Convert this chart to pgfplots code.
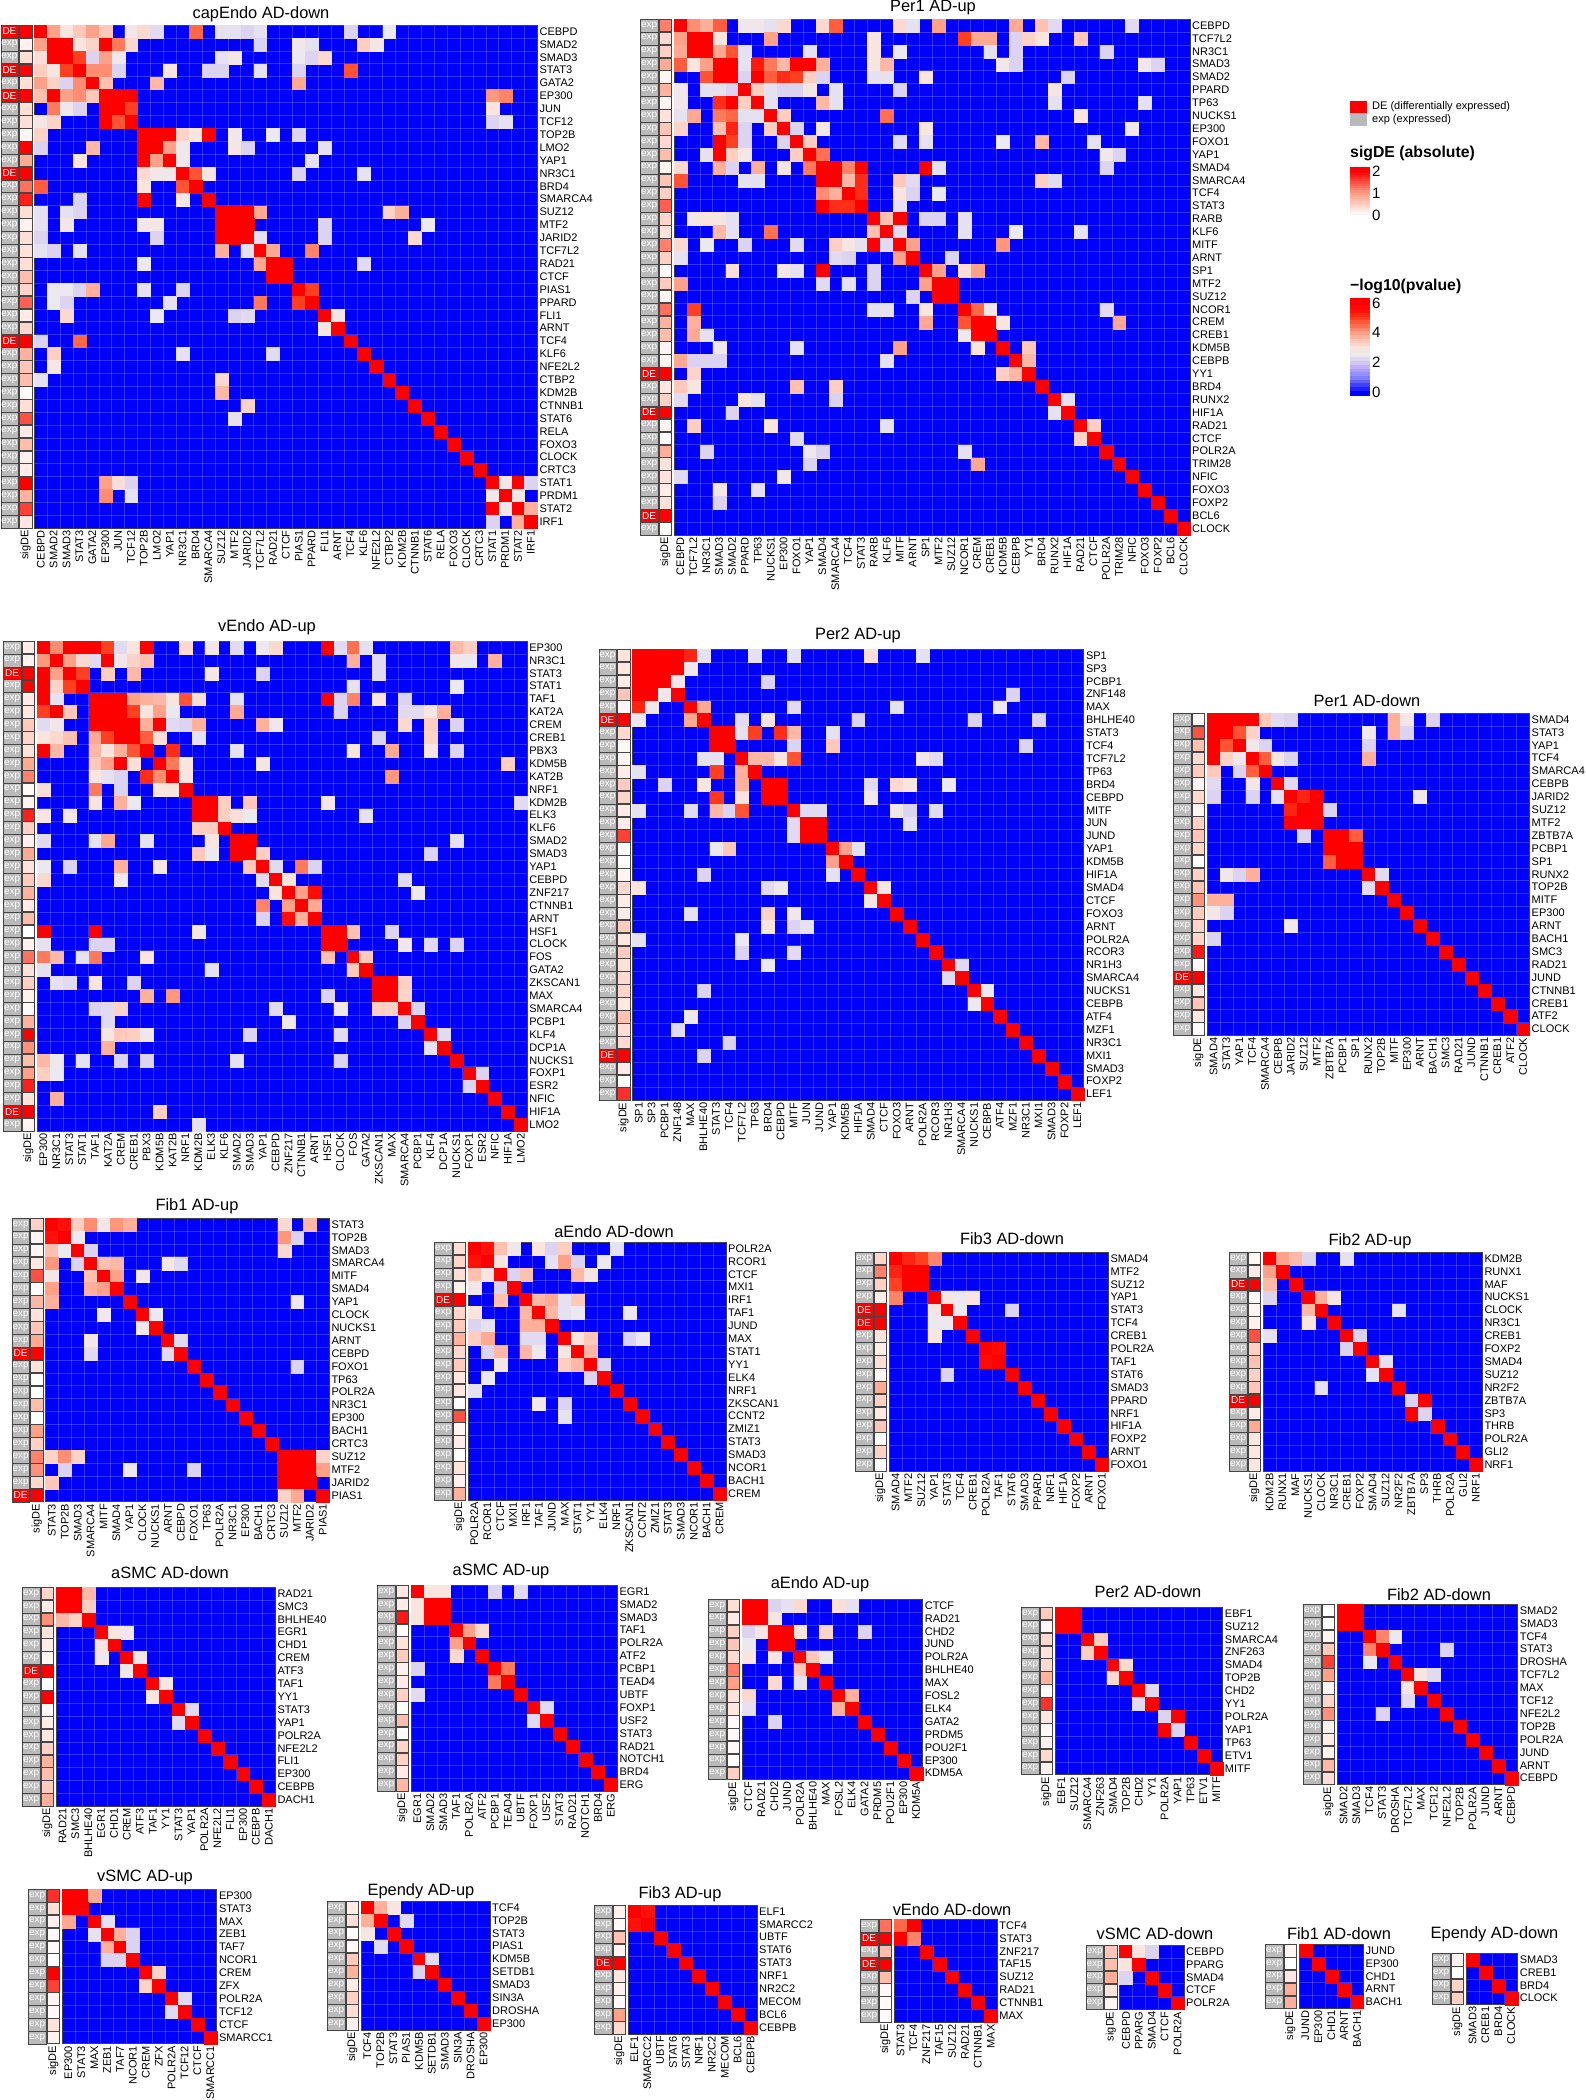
\documentclass[border=0pt]{standalone}
\usepackage{fontspec}
\setmainfont{Liberation Sans}
\usepackage{pgfplots}
\pgfplotsset{compat=1.18}

\def\cw{12.9}
\def\labf{\fontsize{11}{13}\selectfont}
\definecolor{expgrey}{RGB}{186,186,186}
\definecolor{cellline}{RGB}{70,70,70}
\pgfplotsset{
  colormap={hm}{rgb255=(0,0,255) rgb255=(64,64,255) rgb255=(128,128,255) rgb255=(172,160,250)
    rgb255=(210,198,240) rgb255=(235,232,240) rgb255=(250,228,222) rgb255=(255,200,184)
    rgb255=(255,160,136) rgb255=(255,112,80) rgb255=(255,64,32) rgb255=(255,16,8) rgb255=(255,0,0)},
  colormap={sigc}{rgb255=(255,255,255) rgb255=(255,160,135) rgb255=(255,0,0)},
  heatx/.style={},
  base/.style={scale only axis,anchor=south west,y dir=reverse,ymin=.5,
    major tick length=0pt,minor tick length=0pt,
    x tick label style={rotate=90,anchor=east,font=\labf,inner sep=2pt},
    y tick label style={font=\labf,inner sep=2pt}},
  cellmark/.style={scatter,only marks,mark=square*,mark size=6.45pt,scatter src=explicit,
    mark options={line width=.1pt},
    scatter/use mapped color={draw=mapped color,fill=mapped color}},
  barstyle/.style={scale only axis,anchor=south west,xmin=-.5,xmax=.5,xtick=\empty,clip=false,
    axis on top,axis line style={draw=none},tick align=inside,major tick length=5pt,
    ytick pos=both,yticklabel pos=right,tick style={white,line width=.8pt},
    y tick label style={font=\fontsize{15}{17}\selectfont,inner sep=3pt,text=black},
    /pgf/number format/assume math mode=true},
}

% x left of matrix, y top of matrix, rows, title x, title y, title, genes, exp/DE + sigDE rows, cells
\newcommand\heat[9]{%
  \pgfmathsetmacro\aw{#3*\cw}%
  \pgfmathsetmacro\ay{2100-#2-\aw}%
  \pgfmathsetmacro\ax{#1-33.5}%
  \pgfmathsetmacro\nn{#3+.5}%
  \pgfmathsetmacro\ty{2100-#5}%
  \begin{axis}[base,at={(\ax pt,\ay pt)},width=31.5pt,height=\aw pt,xmin=0,xmax=31.5,ymax=\nn,
    clip=false,axis line style={draw=none},xtick={24.75},xticklabels={sigDE},ytick=\empty,
    point meta min=0,point meta max=2]
    % cell colours and the words go in two plots: nodes near coords drops scatter classes
    \addplot[scatter,only marks,mark=square*,mark size=6.45pt,mark options={xscale=1.34,line width=.5pt},
      scatter src=explicit symbolic,
      scatter/classes={exp={mark=square*,draw=cellline,fill=expgrey},DE={mark=square*,draw=cellline,fill=red}}]
      table[header=false,x expr=8.65,y expr=\coordindex+1,meta index=0,row sep=\\]{#8};
    \addplot[only marks,mark=*,mark size=0pt,mark options={draw opacity=0,fill opacity=0,line width=0pt},
      point meta=explicit symbolic,
      nodes near coords={\pgfplotspointmeta},
      nodes near coords style={anchor=center,inner sep=0pt,text=white,text opacity=1,font=\fontsize{10}{10}\selectfont}]
      table[header=false,x expr=8.65,y expr=\coordindex+1,meta index=0,row sep=\\]{#8};
    \addplot[scatter,only marks,mark=square*,mark size=6.3pt,scatter src=explicit,colormap name=sigc,
      mark options={line width=.5pt},
      scatter/use mapped color={draw=cellline,fill=mapped color}]
      table[header=false,x expr=24.75,y expr=\coordindex+1,meta index=1,row sep=\\]{#8};
  \end{axis}
  \begin{axis}[base,at={(#1pt,\ay pt)},width=\aw pt,height=\aw pt,xmin=.5,xmax=\nn,ymax=\nn,
    clip=false,axis on top,axis line style={draw=black!75,line width=.7pt},
    axis background/.style={fill=blue},
    colormap name=hm,point meta min=0,point meta max=6,
    xtick={1,...,#3},ytick={1,...,#3},xticklabels={#7},yticklabels={#7},heatx,
    yticklabel pos=right,minor x tick num=1,minor y tick num=1,xminorgrids,yminorgrids,
    minor grid style={white,opacity=.2,line width=.45pt}]
    \addplot[cellmark] coordinates {#9};
  \end{axis}
  \node[font=\fontsize{16.4}{18}\selectfont] at (#4pt,\ty pt) {#6};
}

\begin{document}
\begin{tikzpicture}
\path[use as bounding box] (0,0) rectangle (1585pt,2100pt);

\heat{34.3}{25}{39}{261}{14}{capEndo AD-down}
{CEBPD,SMAD2,SMAD3,STAT3,GATA2,EP300,JUN,TCF12,TOP2B,LMO2,YAP1,NR3C1,BRD4,SMARCA4,SUZ12,MTF2,JARID2,TCF7L2,RAD21,CTCF,PIAS1,PPARD,FLI1,ARNT,TCF4,KLF6,NFE2L2,CTBP2,KDM2B,CTNNB1,STAT6,RELA,FOXO3,CLOCK,CRTC3,STAT1,PRDM1,STAT2,IRF1}
{DE 2\\exp .15\\exp .35\\DE 2\\exp .35\\DE 2\\exp .35\\exp .35\\exp .1\\exp 2\\exp .9\\DE 2\\exp 1.3\\exp 1.8\\exp .35\\exp .15\\exp .35\\exp .3\\exp .35\\exp .7\\exp .45\\exp 1.4\\exp .2\\exp .45\\DE 2\\exp .8\\exp .6\\exp .7\\exp .05\\exp .35\\exp 1.5\\exp .2\\exp .7\\exp .15\\exp .2\\exp 2\\exp .8\\exp 1.6\\exp .25\\}
{(1,1)[6] (2,1)[4] (3,1)[3] (4,1)[3.5] (5,1)[4] (6,1)[3.5] (8,1)[2.8] (9,1)[3.2] (10,1)[2.3] (13,1)[4.6] (15,1)[2.4] (16,1)[2.4] (17,1)[2.2] (18,1)[2.4] (25,1)[2.2] (28,1)[2.5]
(1,2)[4] (2,2)[6] (3,2)[6] (4,2)[3] (5,2)[3.3] (6,2)[6] (7,2)[4.4] (8,2)[3.2] (18,2)[2.2] (21,2)[2.7] (22,2)[2.4] (26,2)[3.4] (27,2)[2.8]
(1,3)[3.1] (2,3)[6] (3,3)[6] (4,3)[5] (5,3)[2.2] (6,3)[4] (7,3)[2.7] (15,3)[2.4] (16,3)[2.8] (21,3)[2.5] (22,3)[2.2] (23,3)[3.2]
(1,4)[3.4] (2,4)[2.9] (3,4)[5] (4,4)[6] (5,4)[4.2] (6,4)[4.2] (7,4)[2.2] (11,4)[3] (14,4)[2.2] (15,4)[2.2] (18,4)[2.4] (21,4)[2.2] (25,4)[4.8]
(1,5)[4] (2,5)[3.3] (3,5)[2.2] (4,5)[4.2] (5,5)[6] (6,5)[3.6] (10,5)[3.7] (21,5)[3.9]
(1,6)[3.6] (2,6)[6] (3,6)[4] (4,6)[4.2] (5,6)[3.5] (6,6)[6] (7,6)[6] (8,6)[6] (36,6)[4.1] (37,6)[4.3]
(2,7)[4.4] (3,7)[2.7] (4,7)[2.2] (6,7)[6] (7,7)[6] (8,7)[5] (36,7)[3]
(1,8)[2.8] (2,8)[3.3] (6,8)[6] (7,8)[4.8] (8,8)[6] (36,8)[2.2] (37,8)[2.4]
(1,9)[3.3] (9,9)[6] (10,9)[6] (11,9)[6] (12,9)[3.3] (13,9)[3] (14,9)[6] (16,9)[2.7] (19,9)[2.5] (21,9)[2.2]
(1,10)[2.2] (5,10)[3.7] (9,10)[6] (10,10)[6] (11,10)[4] (12,10)[2.7] (16,10)[2.8] (17,10)[2.2] (23,10)[2.4]
(4,11)[3] (9,11)[6] (10,11)[4] (11,11)[6] (12,11)[2.7] (22,11)[2.4]
(9,12)[3.2] (10,12)[2.7] (11,12)[2.7] (12,12)[6] (13,12)[4.8] (14,12)[2.9] (21,12)[2.2] (26,12)[2.4]
(1,13)[4.7] (9,13)[3] (12,13)[4.8] (13,13)[6]
(4,14)[2.2] (9,14)[6] (12,14)[2.8] (14,14)[6]
(1,15)[2.4] (3,15)[2.4] (4,15)[2.2] (15,15)[6] (16,15)[6] (17,15)[6] (18,15)[3.9] (28,15)[3.3] (29,15)[3.8]
(1,16)[2.4] (3,16)[2.8] (9,16)[2.7] (10,16)[2.8] (15,16)[6] (16,16)[6] (17,16)[6] (23,16)[2.2] (31,16)[2.5]
(1,17)[2.2] (10,17)[2.2] (15,17)[6] (16,17)[6] (17,17)[6] (18,17)[2.4] (23,17)[2.2] (30,17)[3.2]
(1,18)[2.4] (2,18)[2.2] (4,18)[2.4] (15,18)[3.8] (17,18)[2.4] (18,18)[6] (19,18)[3.9] (22,18)[4.3]
(9,19)[2.5] (18,19)[3.9] (19,19)[6] (20,19)[6] (26,19)[2.3]
(19,20)[6] (20,20)[6]
(2,21)[2.6] (3,21)[2.5] (4,21)[2.2] (5,21)[3.8] (9,21)[2.4] (12,21)[2.2] (21,21)[6] (22,21)[5]
(2,22)[2.5] (3,22)[2.2] (11,22)[2.4] (18,22)[4.4] (21,22)[5] (22,22)[6]
(3,23)[3.2] (10,23)[2.5] (16,23)[2.2] (17,23)[2.3] (23,23)[6] (24,23)[2.8]
(23,24)[2.9] (24,24)[6]
(1,25)[2.2] (4,25)[4.6] (25,25)[6]
(2,26)[3.4] (12,26)[2.4] (19,26)[2.3] (26,26)[6]
(2,27)[2.8] (27,27)[6]
(1,28)[2.4] (15,28)[3.2] (28,28)[6]
(15,29)[3.7] (29,29)[6]
(17,30)[3.3] (30,30)[6]
(16,31)[2.4] (31,31)[6]
(32,32)[6] (33,33)[6] (34,34)[6] (35,35)[6]
(6,36)[4] (7,36)[3.1] (8,36)[2.2] (36,36)[6] (37,36)[2.7] (38,36)[6] (39,36)[2.2]
(6,37)[4.2] (8,37)[2.4] (36,37)[2.7] (37,37)[6] (38,37)[2.8]
(36,38)[6] (37,38)[2.7] (38,38)[6] (39,38)[3.8]
(36,39)[2.2] (38,39)[3.8] (39,39)[6]}

\heat{674}{19}{40}{933}{8}{Per1 AD-up}
{CEBPD,TCF7L2,NR3C1,SMAD3,SMAD2,PPARD,TP63,NUCKS1,EP300,FOXO1,YAP1,SMAD4,SMARCA4,TCF4,STAT3,RARB,KLF6,MITF,ARNT,SP1,MTF2,SUZ12,NCOR1,CREM,CREB1,KDM5B,CEBPB,YY1,BRD4,RUNX2,HIF1A,RAD21,CTCF,POLR2A,TRIM28,NFIC,FOXO3,FOXP2,BCL6,CLOCK}
{exp 1.2\\exp .4\\exp .5\\exp .9\\exp .1\\exp .8\\exp .1\\exp .3\\exp .6\\exp .4\\exp .7\\exp .1\\exp .6\\exp .5\\exp 1.4\\exp .45\\exp .3\\exp 1.2\\exp .5\\exp .05\\exp .55\\exp .1\\exp 1.3\\exp .8\\exp .7\\exp .1\\exp .1\\DE 2\\exp .25\\exp .5\\DE 2\\exp .12\\exp .02\\exp .85\\exp .3\\exp .3\\exp .2\\exp .3\\DE 2\\exp .03\\}
{(1,1)[6] (2,1)[4.2] (3,1)[3.8] (4,1)[4.7] (6,1)[2.7] (7,1)[2.7] (8,1)[2.4] (9,1)[3.2] (12,1)[3.2] (13,1)[4.7] (18,1)[3.2] (19,1)[2.4] (21,1)[4] (27,1)[3.9] (29,1)[3.6] (30,1)[2.3] (36,1)[2.3]
(1,2)[4] (2,2)[6] (3,2)[6] (4,2)[3] (8,2)[4] (16,2)[2.9] (23,2)[5] (24,2)[3.9] (25,2)[3.9] (27,2)[2.2] (28,2)[3.3] (29,2)[3] (32,2)[3.5]
(1,3)[3.9] (2,3)[6] (3,3)[6] (4,3)[3.9] (5,3)[4.8] (6,3)[2.4] (11,3)[2.4] (16,3)[3] (18,3)[2.5] (25,3)[2.4] (27,3)[2.2] (34,3)[2.2]
(1,4)[4.7] (2,4)[3] (3,4)[4] (4,4)[6] (5,4)[6] (6,4)[2.4] (7,4)[5.4] (8,4)[4.4] (9,4)[3.7] (10,4)[6] (11,4)[6] (12,4)[3.8] (16,4)[2.9] (17,4)[3.7] (26,4)[2.7] (27,4)[2.2] (37,4)[2.7] (38,4)[2.2]
(3,5)[4.8] (4,5)[6] (5,5)[6] (6,5)[2.2] (7,5)[6] (8,5)[4.7] (9,5)[5.2] (10,5)[5] (11,5)[3.4] (12,5)[2.2] (16,5)[2.4] (17,5)[2.4] (20,5)[3] (31,5)[2.2]
(1,6)[2.7] (3,6)[2.4] (4,6)[2.4] (5,6)[2.2] (6,6)[6] (7,6)[3.4] (8,6)[2.4] (9,6)[2.2] (10,6)[2.2] (11,6)[2.8] (13,6)[2.4] (18,6)[2.2] (30,6)[2.9]
(1,7)[2.7] (4,7)[5.2] (5,7)[6] (6,7)[3.4] (7,7)[6] (8,7)[2.4] (12,7)[3.7] (13,7)[2.4] (30,7)[2.4] (37,7)[2.4]
(1,8)[2.4] (2,8)[3.9] (4,8)[4.4] (5,8)[4.6] (6,8)[2.4] (7,8)[2.4] (8,8)[6] (9,8)[3.4] (17,8)[4.5] (32,8)[3]
(1,9)[3.3] (4,9)[3.6] (5,9)[5.3] (6,9)[2.2] (8,9)[3.4] (9,9)[6] (10,9)[2.2] (12,9)[2.8] (20,9)[2.9] (36,9)[2.7]
(4,10)[6] (5,10)[5] (6,10)[2.2] (9,10)[2.2] (10,10)[6] (11,10)[3.4] (18,10)[2.3] (20,10)[2.4] (26,10)[2.5] (29,10)[3.7] (33,10)[2.4]
(3,11)[2.4] (4,11)[6] (5,11)[3.4] (6,11)[2.8] (10,11)[3.4] (11,11)[6] (12,11)[4.5] (34,11)[2.7] (35,11)[2.2]
(1,12)[3.2] (4,12)[3.8] (5,12)[2.2] (7,12)[3.8] (9,12)[2.9] (11,12)[4.4] (12,12)[6] (13,12)[6] (14,12)[4.3] (15,12)[6] (20,12)[6] (21,12)[2.4] (34,12)[2.2]
(1,13)[4.8] (6,13)[2.4] (7,13)[2.4] (12,13)[6] (13,13)[6] (14,13)[3.7] (15,13)[5.2] (18,13)[3.5] (19,13)[2.3] (29,13)[3.4] (30,13)[2.3]
(12,14)[4.2] (13,14)[3.8] (14,14)[6] (15,14)[5.2] (18,14)[3] (19,14)[2.2] (21,14)[2.5]
(12,15)[6] (13,15)[5.2] (14,15)[5.2] (15,15)[6] (18,15)[2.4]
(2,16)[2.8] (3,16)[3] (4,16)[2.9] (5,16)[2.4] (16,16)[6] (17,16)[3.6] (18,16)[6] (20,16)[2.2] (21,16)[2.2] (23,16)[2.4]
(4,17)[3.7] (5,17)[2.4] (8,17)[4.5] (16,17)[3.6] (17,17)[6] (18,17)[2.3] (23,17)[2.4] (27,17)[2.5] (32,17)[2.4]
(1,18)[3.2] (3,18)[2.5] (6,18)[2.2] (10,18)[2.3] (13,18)[3.4] (14,18)[2.9] (15,18)[2.4] (16,18)[6] (17,18)[2.3] (18,18)[6] (19,18)[4] (26,18)[4.1]
(1,19)[2.4] (13,19)[2.3] (14,19)[2.2] (18,19)[4] (19,19)[6] (22,19)[2.2]
(5,20)[3.1] (9,20)[2.8] (10,20)[2.4] (12,20)[6] (16,20)[2.2] (20,20)[6] (21,20)[4] (23,20)[3.1] (24,20)[4]
(1,21)[4] (12,21)[2.3] (14,21)[2.4] (16,21)[2.2] (20,21)[4] (21,21)[6] (22,21)[6]
(19,22)[2.2] (21,22)[6] (22,22)[6]
(2,23)[5] (16,23)[2.4] (17,23)[2.4] (20,23)[3] (23,23)[6] (24,23)[4.6] (25,23)[2.7] (34,23)[2.3]
(2,24)[3.8] (20,24)[3.9] (23,24)[4.8] (24,24)[6] (25,24)[6] (26,24)[3] (35,24)[3.9]
(2,25)[3.9] (3,25)[2.4] (23,25)[2.7] (24,25)[6] (25,25)[6]
(4,26)[2.7] (10,26)[2.4] (18,26)[4] (24,26)[3] (26,26)[6] (28,26)[3.5]
(1,27)[3.9] (2,27)[2.2] (3,27)[2.2] (4,27)[2.2] (17,27)[2.4] (27,27)[6] (28,27)[3.7]
(2,28)[3.3] (26,28)[3.4] (27,28)[3.7] (28,28)[6]
(1,29)[3.5] (2,29)[2.9] (10,29)[3.6] (13,29)[3.4] (29,29)[6]
(1,30)[2.3] (6,30)[3] (7,30)[2.4] (13,30)[2.2] (30,30)[6] (31,30)[2.4]
(5,31)[2.2] (30,31)[2.4] (31,31)[6]
(2,32)[3.4] (8,32)[3] (17,32)[2.4] (32,32)[6] (33,32)[3.4]
(10,33)[2.3] (32,33)[3.3] (33,33)[6]
(3,34)[2.2] (11,34)[2.7] (12,34)[2.2] (23,34)[2.4] (34,34)[6]
(11,35)[2.2] (24,35)[3.9] (35,35)[6]
(1,36)[2.3] (9,36)[2.7] (36,36)[6]
(4,37)[2.8] (7,37)[2.4] (37,37)[6]
(4,38)[2.2] (38,38)[6] (39,39)[6] (40,40)[6]}

\heat{37}{641}{38}{267}{627}{vEndo AD-up}
{EP300,NR3C1,STAT3,STAT1,TAF1,KAT2A,CREM,CREB1,PBX3,KDM5B,KAT2B,NRF1,KDM2B,ELK3,KLF6,SMAD2,SMAD3,YAP1,CEBPD,ZNF217,CTNNB1,ARNT,HSF1,CLOCK,FOS,GATA2,ZKSCAN1,MAX,SMARCA4,PCBP1,KLF4,DCP1A,NUCKS1,FOXP1,ESR2,NFIC,HIF1A,LMO2}
{exp .2\\exp .15\\DE 2\\exp 2\\exp .2\\exp .25\\exp .55\\exp .45\\exp .3\\exp .9\\exp 1.2\\exp .05\\exp .15\\exp 1.8\\exp .5\\exp .15\\exp .9\\exp .3\\exp .55\\exp .8\\exp .2\\exp .7\\exp 0\\exp .15\\exp 1.3\\exp .3\\exp .5\\exp .15\\exp .05\\exp .8\\exp 2\\exp 1.1\\exp .7\\exp 1\\exp 1.8\\exp .3\\DE 2\\exp .1\\}
{(1,1)[6] (2,1)[4.2] (3,1)[6] (4,1)[6] (5,1)[6] (6,1)[5] (7,1)[2.3] (8,1)[3] (9,1)[6] (12,1)[3.2] (14,1)[2.8] (16,1)[2.3] (18,1)[2.6] (19,1)[3.2] (23,1)[6] (24,1)[2.3] (25,1)[4.5] (26,1)[2.4] (33,1)[3.7] (34,1)[3.4]
(1,2)[4.1] (2,2)[6] (3,2)[4] (4,2)[3.2] (5,2)[2.3] (6,2)[6] (7,2)[2.7] (8,2)[3.3] (9,2)[3.6] (25,2)[3.8] (27,2)[2.3] (33,2)[2.7] (34,2)[2.5] (36,2)[3.8]
(1,3)[6] (2,3)[4] (3,3)[6] (4,3)[5] (6,3)[3.4] (8,3)[3.7] (14,3)[2.8] (18,3)[2.2] (27,3)[2.3]
(1,4)[6] (2,4)[3.3] (3,4)[5] (4,4)[6] (25,4)[2.4] (33,4)[2.5]
(1,5)[6] (2,5)[2.4] (5,5)[6] (6,5)[6] (7,5)[6] (8,5)[4] (9,5)[3.8] (10,5)[3.7] (11,5)[3] (12,5)[4.8] (13,5)[3.1] (16,5)[2.4] (23,5)[6] (24,5)[2.2] (25,5)[4.3] (27,5)[2.9] (29,5)[2.2]
(1,6)[5] (2,6)[6] (3,6)[3.5] (5,6)[6] (6,6)[6] (7,6)[6] (8,6)[5] (9,6)[3] (10,6)[4] (11,6)[2.5] (16,6)[3.9] (24,6)[2.2] (29,6)[2.3] (30,6)[2.3] (31,6)[2.8] (32,6)[3.8]
(1,7)[2.3] (2,7)[2.7] (5,7)[6] (6,7)[6] (7,7)[6] (8,7)[6] (9,7)[3.8] (10,7)[6] (11,7)[2.3] (12,7)[2.2] (13,7)[3.8] (18,7)[3.8] (19,7)[2.7] (29,7)[3.2] (31,7)[3.4] (33,7)[2.2]
(1,8)[3] (2,8)[3.2] (3,8)[3.6] (5,8)[3.9] (6,8)[5] (7,8)[6] (8,8)[6] (9,8)[4.7] (10,8)[3.1] (13,8)[2.4] (27,8)[2.2] (31,8)[3.3]
(1,9)[6] (2,9)[3.7] (5,9)[3.7] (6,9)[3] (7,9)[3.8] (8,9)[4.8] (9,9)[6] (11,9)[5.2] (16,9)[2.4] (25,9)[3] (28,9)[3.9] (31,9)[2.8] (33,9)[2.2]
(5,10)[3.5] (6,10)[4] (7,10)[6] (8,10)[3.1] (10,10)[6] (11,10)[4.4] (12,10)[3] (18,10)[2.8] (37,10)[3.4]
(5,11)[3] (6,11)[2.4] (7,11)[2.2] (9,11)[5.2] (10,11)[4.2] (11,11)[6] (12,11)[3] (28,11)[4.1]
(1,12)[3.1] (5,12)[4.4] (7,12)[2.2] (10,12)[3] (11,12)[3] (12,12)[6]
(5,13)[3] (7,13)[3.8] (8,13)[2.5] (13,13)[6] (14,13)[6] (15,13)[3.4] (17,13)[3.5] (23,13)[2.8] (38,13)[2.3]
(1,14)[2.9] (3,14)[2.8] (13,14)[6] (14,14)[6] (15,14)[3.4] (16,14)[3.1] (17,14)[2.5] (26,14)[2.4]
(13,15)[3.4] (14,15)[3.4] (15,15)[6]
(1,16)[2.3] (5,16)[2.4] (6,16)[3.9] (9,16)[2.4] (14,16)[3] (16,16)[6] (17,16)[6] (33,16)[2.4]
(13,17)[3.5] (14,17)[2.5] (16,17)[6] (17,17)[6] (18,17)[3.4] (31,17)[2.2]
(1,18)[2.5] (3,18)[2.2] (7,18)[3.8] (10,18)[2.8] (17,18)[3.5] (18,18)[6] (19,18)[2.3] (21,18)[4.4] (22,18)[2.2]
(1,19)[3.2] (7,19)[2.7] (18,19)[2.3] (19,19)[6] (20,19)[3] (29,19)[2.3]
(19,20)[3] (20,20)[6] (21,20)[4] (22,20)[5.7] (30,20)[2.6]
(18,21)[4.3] (20,21)[4] (21,21)[6] (22,21)[3.9]
(18,22)[2.2] (20,22)[5.6] (21,22)[3.8] (22,22)[6]
(1,23)[6] (5,23)[6] (13,23)[2.8] (23,23)[6] (24,23)[6] (25,23)[3.6] (28,23)[2.2]
(1,24)[2.4] (5,24)[2.2] (6,24)[2.2] (23,24)[6] (24,24)[6] (29,24)[2.7] (31,24)[2.3] (33,24)[2.2]
(1,25)[4.4] (2,25)[3.7] (4,25)[2.4] (5,25)[4.4] (9,25)[3] (23,25)[3.6] (25,25)[6] (26,25)[3.5]
(1,26)[2.4] (14,26)[2.4] (25,26)[3.5] (26,26)[6]
(2,27)[2.4] (3,27)[2.3] (5,27)[3] (8,27)[2.2] (27,27)[6] (28,27)[6] (29,27)[3.4]
(9,28)[3.8] (11,28)[4.1] (23,28)[2.2] (27,28)[6] (28,28)[6] (29,28)[3.3]
(5,29)[2.2] (6,29)[2.3] (7,29)[3.3] (19,29)[2.3] (24,29)[2.7] (27,29)[3.4] (28,29)[3.3] (29,29)[6] (30,29)[2.2]
(6,30)[2.3] (20,30)[2.7] (29,30)[2.2] (30,30)[6]
(6,31)[2.9] (7,31)[3.5] (8,31)[3.4] (9,31)[2.7] (17,31)[2.2] (24,31)[2.3] (31,31)[6] (32,31)[2.3]
(6,32)[3.8] (31,32)[2.4] (32,32)[6]
(1,33)[3.7] (2,33)[2.6] (4,33)[2.4] (7,33)[2.2] (9,33)[2.2] (16,33)[2.4] (24,33)[2.2] (33,33)[6]
(1,34)[3.4] (2,34)[2.5] (34,34)[6] (35,34)[2.2]
(34,35)[2.2] (35,35)[6]
(2,36)[3.8] (36,36)[6]
(10,37)[3.4] (37,37)[6]
(13,38)[2.4] (38,38)[6]}

\heat{632.3}{649}{35}{858}{635}{Per2 AD-up}
{SP1,SP3,PCBP1,ZNF148,MAX,BHLHE40,STAT3,TCF4,TCF7L2,TP63,BRD4,CEBPD,MITF,JUN,JUND,YAP1,KDM5B,HIF1A,SMAD4,CTCF,FOXO3,ARNT,POLR2A,RCOR3,NR1H3,SMARCA4,NUCKS1,CEBPB,ATF4,MZF1,NR3C1,MXI1,SMAD3,FOXP2,LEF1}
{exp .3\\exp .25\\exp .2\\exp .6\\exp .08\\DE 2\\exp .4\\exp .08\\exp .08\\exp .2\\exp .55\\exp .45\\exp .2\\exp .2\\exp 1.6\\exp 0\\exp .03\\exp .1\\exp .4\\exp .2\\exp .2\\exp .55\\exp .25\\exp .55\\exp .3\\exp .4\\exp .45\\exp .25\\exp .65\\exp .35\\exp .4\\DE 2\\exp .2\\exp 0\\exp 1.7\\}
{(1,1)[6] (2,1)[6] (3,1)[6] (4,1)[6] (5,1)[5.3] (6,1)[2.4] (10,1)[2.4] (13,1)[2.4] (19,1)[3.1] (23,1)[2.4]
(1,2)[6] (2,2)[6] (3,2)[6] (4,2)[6] (5,2)[2.7]
(1,3)[6] (2,3)[6] (3,3)[6] (4,3)[2.7] (11,3)[2.2]
(1,4)[6] (2,4)[6] (3,4)[2.7] (4,4)[6] (30,4)[2.2]
(1,5)[5.3] (2,5)[2.7] (5,5)[6] (6,5)[3.9] (13,5)[2.3] (21,5)[2.4] (29,5)[2.6]
(1,6)[2.5] (5,6)[3.9] (6,6)[6] (9,6)[2.3] (11,6)[3] (18,6)[2.2] (27,6)[2.2] (32,6)[2.2]
(7,7)[6] (8,7)[6] (9,7)[2.4] (10,7)[5] (12,7)[5.2] (13,7)[3.7] (16,7)[2.4]
(7,8)[6] (8,8)[6] (13,8)[2.2] (16,8)[3.5] (31,8)[2.2]
(6,9)[2.4] (7,9)[2.4] (9,9)[6] (10,9)[3.7] (11,9)[3.7] (12,9)[3] (13,9)[4.8] (23,9)[2.7] (24,9)[2.3]
(1,10)[2.4] (7,10)[5] (9,10)[3.8] (10,10)[6]
(3,11)[2.2] (6,11)[3] (9,11)[3.8] (11,11)[6] (12,11)[6] (19,11)[2.3] (21,11)[3.2] (22,11)[2.9] (25,11)[2.5]
(7,12)[5.1] (9,12)[3] (11,12)[6] (12,12)[6] (19,12)[2.7]
(1,13)[2.4] (5,13)[2.3] (7,13)[3.7] (8,13)[2.2] (9,13)[4.8] (13,13)[6] (14,13)[2.3] (15,13)[2.3] (21,13)[2.7] (22,13)[2.2] (24,13)[2.3]
(13,14)[2.3] (14,14)[6] (15,14)[6] (22,14)[2.4]
(13,15)[2.3] (14,15)[6] (15,15)[6]
(7,16)[2.5] (8,16)[3.5] (16,16)[6] (17,16)[4] (18,16)[2.4]
(16,17)[4] (17,17)[6]
(6,18)[2.2] (16,18)[2.4] (18,18)[6]
(1,19)[3] (11,19)[2.3] (12,19)[2.6] (19,19)[6] (20,19)[2.8]
(19,20)[2.8] (20,20)[6]
(5,21)[2.4] (11,21)[3.3] (13,21)[2.7] (21,21)[6]
(11,22)[3] (13,22)[2.2] (14,22)[2.4] (22,22)[6]
(1,23)[2.4] (9,23)[2.5] (23,23)[6]
(9,24)[2.2] (13,24)[2.3] (24,24)[6]
(11,25)[2.5] (25,25)[6] (26,25)[2.3]
(25,26)[2.3] (26,26)[6]
(6,27)[2.2] (27,27)[6] (28,27)[2.5]
(27,28)[2.5] (28,28)[6]
(5,29)[2.6] (29,29)[6]
(4,30)[2.3] (30,30)[6]
(8,31)[2.2] (31,31)[6]
(6,32)[2.2] (32,32)[6]
(33,33)[6] (34,34)[6] (35,35)[6]}

\heat{1207}{713}{25}{1367}{701}{Per1 AD-down}
{SMAD4,STAT3,YAP1,TCF4,SMARCA4,CEBPB,JARID2,SUZ12,MTF2,ZBTB7A,PCBP1,SP1,RUNX2,TOP2B,MITF,EP300,ARNT,BACH1,SMC3,RAD21,JUND,CTNNB1,CREB1,ATF2,CLOCK}
{exp .05\\exp 1.5\\exp .65\\exp .4\\exp .55\\exp .12\\exp .4\\exp .12\\exp .5\\exp .6\\exp .45\\exp .03\\exp .5\\exp .6\\exp 1.1\\exp .55\\exp .45\\exp .45\\exp 1.85\\exp .08\\DE 2\\exp .25\\exp .6\\exp .25\\exp .03\\}
{(1,1)[6] (2,1)[6] (3,1)[6] (4,1)[6] (5,1)[3.5] (6,1)[2.3] (7,1)[2.2] (15,1)[3.8] (16,1)[2.8] (18,1)[2.2]
(1,2)[6] (2,2)[6] (3,2)[4.8] (4,2)[3.3] (13,2)[2.7] (15,2)[3.8] (16,2)[2.2]
(1,3)[6] (2,3)[4.8] (3,3)[6] (4,3)[2.7] (5,3)[2.2] (13,3)[2.2]
(1,4)[6] (2,4)[3.3] (3,4)[2.7] (4,4)[6] (5,4)[4.7] (6,4)[2.8] (7,4)[2.2] (13,4)[3.8]
(1,5)[3.5] (3,5)[2.2] (4,5)[4.7] (5,5)[6]
(1,6)[2.3] (4,6)[2.8] (6,6)[6] (7,6)[2.3]
(1,7)[2.2] (4,7)[2.2] (6,7)[2.4] (7,7)[6] (8,7)[5.3] (9,7)[6] (17,7)[2.7]
(7,8)[5.3] (8,8)[6] (9,8)[6] (10,8)[2.2]
(7,9)[6] (8,9)[6] (9,9)[6]
(8,10)[2.2] (10,10)[6] (11,10)[6] (12,10)[4.7]
(10,11)[6] (11,11)[6] (12,11)[6]
(10,12)[4.7] (11,12)[6] (12,12)[6]
(2,13)[2.7] (3,13)[2.2] (4,13)[3.8] (13,13)[6] (14,13)[2.3]
(13,14)[2.3] (14,14)[6]
(1,15)[3.8] (2,15)[3.8] (15,15)[6]
(1,16)[2.8] (2,16)[2.2] (16,16)[6]
(7,17)[2.7] (17,17)[6]
(1,18)[2.2] (18,18)[6]
(19,19)[6] (20,20)[6] (21,21)[6] (22,22)[6] (23,23)[6] (24,24)[6] (25,25)[6]}

\heat{45.5}{1218}{22}{197}{1206}{Fib1 AD-up}
{STAT3,TOP2B,SMAD3,SMARCA4,MITF,SMAD4,YAP1,CLOCK,NUCKS1,ARNT,CEBPD,FOXO1,TP63,POLR2A,NR3C1,EP300,BACH1,CRTC3,SUZ12,MTF2,JARID2,PIAS1}
{exp .5\\exp .12\\exp .1\\exp .25\\exp 1.5\\exp .02\\exp .75\\exp .3\\exp .6\\exp .9\\DE 2\\exp .3\\exp 0\\exp 0\\exp .7\\exp 0\\exp 1\\exp .5\\exp 1.2\\exp 1.1\\exp .4\\DE 2\\}
{(1,1)[6] (2,1)[5.5] (3,1)[3.4] (4,1)[4.2] (5,1)[2.8] (6,1)[4.1] (7,1)[3.8] (19,1)[3.2] (21,1)[3.7]
(1,2)[5.5] (2,2)[6] (3,2)[2.5] (19,2)[4.1] (20,2)[2.2]
(1,3)[3.6] (2,3)[2.5] (3,3)[6] (4,3)[2.2] (19,3)[3.2]
(1,4)[4.1] (3,4)[2.2] (4,4)[6] (5,4)[3.6] (6,4)[3.7] (10,4)[2.8] (11,4)[2.3]
(1,5)[2.8] (4,5)[3.6] (5,5)[6] (6,5)[4] (8,5)[2.7]
(1,6)[4] (4,6)[3.8] (5,6)[4] (6,6)[6]
(1,7)[3.8] (7,7)[6] (20,7)[2.7]
(5,8)[2.7] (8,8)[6] (9,8)[2.5]
(8,9)[2.6] (9,9)[6]
(4,10)[2.8] (10,10)[6] (11,10)[2.3]
(4,11)[2.3] (10,11)[2.3] (11,11)[6]
(12,12)[6] (20,12)[2.2]
(13,13)[6] (14,14)[6] (15,15)[6] (16,16)[6] (17,17)[6] (18,18)[6]
(1,19)[3.3] (2,19)[4.2] (3,19)[3.3] (19,19)[6] (20,19)[6] (21,19)[6] (22,19)[3.3]
(2,20)[2.2] (7,20)[2.6] (12,20)[2.2] (19,20)[6] (20,20)[6] (21,20)[6] (22,20)[4]
(1,21)[3.5] (19,21)[6] (20,21)[6] (21,21)[6]
(19,22)[3.3] (20,22)[3.9] (22,22)[6]}

\heat{468}{1242}{20}{614}{1232}{aEndo AD-down}
{POLR2A,RCOR1,CTCF,MXI1,IRF1,TAF1,JUND,MAX,STAT1,YY1,ELK4,NRF1,ZKSCAN1,CCNT2,ZMIZ1,STAT3,SMAD3,NCOR1,BACH1,CREM}
{exp .35\\exp .45\\exp .35\\exp .15\\DE 2\\exp .45\\exp .55\\exp .8\\exp .4\\exp .55\\exp .25\\exp .25\\exp .03\\exp 1.5\\exp .12\\exp .2\\exp .03\\exp .3\\exp .15\\exp .8\\}
{(1,1)[6] (2,1)[5.5] (3,1)[3.6] (4,1)[2.7] (6,1)[3] (7,1)[2.2] (8,1)[3.4] (12,1)[2.4]
(1,2)[5.5] (2,2)[6] (3,2)[2.9] (7,2)[2.4] (8,2)[4] (9,2)[2.2] (11,2)[2.5]
(1,3)[3.6] (2,3)[2.9] (3,3)[6] (4,3)[2.2] (5,3)[3.6] (9,3)[3.7] (10,3)[2.8]
(1,4)[2.7] (3,4)[2.2] (4,4)[6]
(3,5)[3.6] (5,5)[6] (6,5)[3.7] (7,5)[3.9] (8,5)[2.4] (9,5)[3.5]
(1,6)[3] (5,6)[3.7] (6,6)[6] (7,6)[3.7] (8,6)[2.4] (9,6)[2.5] (13,6)[2.6]
(1,7)[2.2] (2,7)[2.4] (5,7)[3.8] (6,7)[3.8] (7,7)[6]
(1,8)[3.4] (2,8)[3.9] (5,8)[2.3] (6,8)[2.3] (8,8)[6] (9,8)[3] (10,8)[3.5] (13,8)[2.2] (14,8)[2.5]
(2,9)[2.2] (3,9)[3.7] (5,9)[3.7] (6,9)[2.6] (8,9)[2.9] (9,9)[6] (10,9)[3.7]
(3,10)[2.8] (8,10)[3.4] (9,10)[3.7] (10,10)[6] (11,10)[2.2]
(2,11)[2.5] (10,11)[2.2] (11,11)[6]
(1,12)[2.4] (12,12)[6]
(6,13)[2.7] (8,13)[2.2] (13,13)[6]
(8,14)[2.4] (14,14)[6]
(15,15)[6] (16,16)[6] (17,17)[6] (18,18)[6] (19,19)[6] (20,20)[6]}

\heat{889}{1252}{17}{1012}{1239}{Fib3 AD-down}
{SMAD4,MTF2,SUZ12,YAP1,STAT3,TCF4,CREB1,POLR2A,TAF1,STAT6,SMAD3,PPARD,NRF1,HIF1A,FOXP2,ARNT,FOXO1}
{exp .45\\exp 1.2\\exp .5\\exp .2\\DE 2\\DE 2\\exp .3\\exp .2\\exp .35\\exp .1\\exp .9\\exp .5\\exp .25\\exp .6\\exp 0\\exp .5\\exp 0\\}
{(1,1)[6] (2,1)[5.3] (3,1)[5] (4,1)[4.3]
(1,2)[5.3] (2,2)[6] (3,2)[6]
(1,3)[5] (2,3)[6] (3,3)[6]
(1,4)[4.3] (4,4)[6] (5,4)[2.9] (6,4)[2.5] (7,4)[2.9]
(4,5)[2.9] (5,5)[6] (6,5)[2.5] (10,5)[2.2]
(4,6)[2.5] (5,6)[2.5] (6,6)[6]
(4,7)[2.9] (7,7)[6]
(8,8)[6] (9,8)[5.7]
(8,9)[5.7] (9,9)[6]
(5,10)[2.2] (10,10)[6]
(11,11)[6] (12,12)[6] (13,13)[6] (14,14)[6] (15,15)[6] (16,16)[6] (17,17)[6]}

\heat{1263}{1252}{17}{1370}{1241}{Fib2 AD-up}
{KDM2B,RUNX1,MAF,NUCKS1,CLOCK,NR3C1,CREB1,FOXP2,SMAD4,SUZ12,NR2F2,ZBTB7A,SP3,THRB,POLR2A,GLI2,NRF1}
{exp .1\\exp .2\\DE 2\\exp .05\\exp .1\\exp .15\\exp 1.5\\exp .5\\exp .65\\exp .5\\exp .6\\DE 2\\exp .2\\exp .9\\exp .25\\exp .25\\exp .25\\}
{(1,1)[6] (2,1)[4] (3,1)[3.7] (4,1)[2.2] (7,1)[2.4]
(1,2)[4] (2,2)[6]
(1,3)[3.7] (3,3)[6]
(1,4)[2.2] (4,4)[6] (5,4)[3.8] (6,4)[2.9]
(4,5)[3.7] (5,5)[6] (11,5)[2.4]
(4,6)[3] (6,6)[6]
(1,7)[2.4] (7,7)[6] (8,7)[2.2]
(7,8)[2.2] (8,8)[6]
(9,9)[6] (10,9)[2.4]
(9,10)[2.4] (10,10)[6]
(5,11)[2.4] (11,11)[6]
(12,12)[2.2] (13,12)[6]
(12,13)[6] (13,13)[2.2]
(14,14)[6] (15,15)[6] (16,16)[6] (17,17)[6]}

\heat{56}{1587}{17}{170}{1573}{aSMC AD-down}
{RAD21,SMC3,BHLHE40,EGR1,CHD1,CREM,ATF3,TAF1,YY1,STAT3,YAP1,POLR2A,NFE2L2,FLI1,EP300,CEBPB,DACH1}
{exp .45\\exp .2\\exp 1.1\\exp .3\\exp .2\\exp .1\\DE 2\\exp 0\\exp 2\\exp .05\\exp .2\\exp .25\\exp .5\\exp .8\\exp .7\\exp .55\\exp .85\\}
{(1,1)[6] (2,1)[6] (3,1)[3.7] (1,2)[6] (2,2)[6] (3,2)[3.4] (1,3)[3.7] (2,3)[3.3] (3,3)[6]
(4,4)[6] (5,4)[3] (6,4)[2.7] (4,5)[3] (5,5)[6] (4,6)[2.7] (6,6)[6] (7,6)[2.7] (6,7)[2.7] (7,7)[6]
(8,8)[6] (9,8)[2.9] (8,9)[2.9] (9,9)[6] (10,10)[6] (11,10)[2.3] (10,11)[2.3] (11,11)[6]
(12,12)[6] (13,13)[6] (14,14)[6] (15,15)[6] (16,16)[6] (17,17)[6]}

\heat{411}{1585}{16}{501}{1571}{aSMC AD-up}
{EGR1,SMAD2,SMAD3,TAF1,POLR2A,ATF2,PCBP1,TEAD4,UBTF,FOXP1,USF2,STAT3,RAD21,NOTCH1,BRD4,ERG}
{exp .25\\exp .2\\exp 1.85\\exp 0\\exp .3\\exp .55\\exp .15\\exp .2\\exp .5\\exp .02\\exp .7\\exp .03\\exp .45\\exp .5\\exp .2\\exp .75\\}
{(1,1)[6] (2,1)[3] (3,1)[3] (7,1)[2.2] (9,1)[2.3] (1,2)[3] (2,2)[6] (3,2)[6] (1,3)[3] (2,3)[6] (3,3)[6]
(4,4)[6] (5,4)[4] (6,4)[3.2] (4,5)[4] (5,5)[6] (4,6)[3.2] (6,6)[6]
(1,7)[2.2] (7,7)[6] (8,7)[4.4] (7,8)[4.4] (8,8)[6] (1,9)[2.3] (9,9)[6]
(10,10)[6] (11,10)[2.3] (10,11)[2.3] (11,11)[6]
(12,12)[6] (13,13)[6] (14,14)[6] (15,15)[6] (16,16)[6]}

\heat{742}{1599}{14}{820}{1584}{aEndo AD-up}
{CTCF,RAD21,CHD2,JUND,POLR2A,BHLHE40,MAX,FOSL2,ELK4,GATA2,PRDM5,POU2F1,EP300,KDM5A}
{exp .35\\exp .2\\exp .5\\exp .6\\exp .4\\exp 1.2\\exp 1\\exp .3\\exp .25\\exp .05\\exp .05\\exp .05\\exp .02\\exp .5\\}
{(1,1)[6] (2,1)[6] (3,1)[2.2] (4,1)[2.4] (5,1)[3.2] (8,1)[3.1] (9,1)[2.4]
(1,2)[6] (2,2)[6] (3,2)[2.9]
(1,3)[2.2] (2,3)[2.9] (3,3)[6] (4,3)[6] (5,3)[3] (7,3)[3.3] (10,3)[2.2]
(1,4)[2.5] (3,4)[6] (4,4)[6]
(1,5)[3] (3,5)[2.9] (5,5)[6] (6,5)[3.5] (7,5)[2.6]
(5,6)[3.5] (6,6)[6]
(3,7)[3.2] (5,7)[2.4] (7,7)[6]
(1,8)[3.2] (8,8)[6] (9,8)[3.8]
(1,9)[2.4] (8,9)[3.8] (9,9)[6]
(3,10)[2.2] (10,10)[6]
(11,11)[6] (12,12)[6] (13,13)[6] (14,14)[6]}

\heat{1055}{1607}{13}{1148}{1592}{Per2 AD-down}
{EBF1,SUZ12,SMARCA4,ZNF263,SMAD4,TOP2B,CHD2,YY1,POLR2A,YAP1,TP63,ETV1,MITF}
{exp .55\\exp .08\\exp .4\\exp .3\\exp .4\\exp .8\\exp .05\\exp 1.7\\exp .25\\exp .05\\exp .15\\exp .4\\exp .15\\}
{(1,1)[6] (2,1)[6] (1,2)[6] (2,2)[6] (3,3)[6] (4,3)[3.4] (3,4)[3.4] (4,4)[6] (5,5)[6] (6,5)[3.2] (5,6)[3.2] (6,6)[6]
(7,7)[6] (8,7)[2.3] (7,8)[2.3] (8,8)[6] (9,9)[2.2] (10,9)[6] (9,10)[6] (10,10)[2.2]
(11,11)[6] (12,12)[6] (13,13)[6]}

\heat{1337}{1604}{14}{1439}{1595}{Fib2 AD-down}
{SMAD2,SMAD3,TCF4,STAT3,DROSHA,TCF7L2,MAX,TCF12,NFE2L2,TOP2B,POLR2A,JUND,ARNT,CEBPD}
{exp 0\\exp 0\\exp .12\\exp .55\\exp 1.6\\exp 1\\exp .1\\exp .45\\exp 1.1\\exp .15\\exp .2\\exp .15\\exp .75\\exp .35\\}
{(1,1)[6] (2,1)[6] (1,2)[6] (2,2)[6] (3,3)[6] (4,3)[4.3] (5,3)[2.6] (3,4)[4.3] (4,4)[6] (9,4)[2.2] (3,5)[2.5] (5,5)[6]
(6,6)[6] (7,6)[2.9] (8,6)[2.3] (6,7)[2.9] (7,7)[6] (6,8)[2.3] (8,8)[6] (4,9)[2.2] (9,9)[6]
(10,10)[6] (11,11)[6] (12,12)[6] (13,13)[6] (14,14)[6]}

\heat{62}{1889}{12}{145}{1877}{vSMC AD-up}
{EP300,STAT3,MAX,ZEB1,TAF7,NCOR1,CREM,ZFX,POLR2A,TCF12,CTCF,SMARCC1}
{exp 1.7\\exp .35\\exp .15\\exp .08\\exp .05\\exp 0\\exp 2\\exp 1.6\\exp .1\\exp .05\\exp .3\\exp .15\\}
{(1,1)[6] (2,1)[6] (3,1)[3.9] (1,2)[6] (2,2)[6] (1,3)[3.9] (3,3)[6] (4,3)[2.4] (3,4)[2.4] (4,4)[6] (5,4)[3.8] (6,4)[2.2]
(4,5)[3.8] (5,5)[6] (6,5)[2.2] (4,6)[2.2] (5,6)[2.2] (6,6)[6] (7,7)[6] (8,7)[3.3] (7,8)[3.3] (8,8)[6]
(9,9)[6] (10,9)[2.3] (9,10)[2.3] (10,10)[6] (11,11)[6] (12,12)[6]}

\heat{361}{1901}{10}{421}{1891}{Ependy AD-up}
{TCF4,TOP2B,STAT3,PIAS1,KDM5B,SETDB1,SMAD3,SIN3A,DROSHA,EP300}
{exp .2\\exp .35\\exp .02\\exp .05\\exp .55\\exp .8\\exp .2\\exp .5\\exp .35\\exp .15\\}
{(1,1)[6] (2,1)[3.8] (3,1)[2.9] (1,2)[3.8] (2,2)[6] (4,2)[2.3] (1,3)[2.9] (3,3)[6] (2,4)[2.3] (4,4)[6]
(5,5)[6] (6,5)[2.3] (5,6)[2.2] (6,6)[6] (7,7)[6] (8,8)[6] (9,9)[6] (10,10)[6]}

\heat{628}{1905}{10}{680}{1894}{Fib3 AD-up}
{ELF1,SMARCC2,UBTF,STAT6,STAT3,NRF1,NR2C2,MECOM,BCL6,CEBPB}
{exp .15\\exp .05\\exp .65\\exp .1\\DE 2\\exp .25\\exp .15\\exp .05\\exp 1\\exp .4\\}
{(1,1)[6] (2,1)[5.5] (1,2)[5.5] (2,2)[6] (3,3)[6] (4,4)[6] (5,5)[6] (6,6)[6] (7,7)[6] (8,8)[6] (9,9)[6] (10,10)[6]}

\pgfplotsset{heatx/.style={xticklabels={STAT3,TCF4,ZNF217,TAF15,SUZ12,RAD21,CTNNB1,MAX}}}
\heat{894}{1919}{8}{952}{1910}{vEndo AD-down}
{TCF4,STAT3,ZNF217,TAF15,SUZ12,RAD21,CTNNB1,MAX}
{exp 1.3\\DE 2\\exp .7\\DE 2\\exp .7\\exp .08\\exp .05\\exp .05\\}
{(1,1)[4.6] (2,1)[6] (1,2)[6] (2,2)[4.3] (3,3)[6] (4,4)[6] (5,5)[6] (6,6)[6] (7,7)[6] (8,8)[6]}
\pgfplotsset{heatx/.style={}}

\heat{1119.5}{1945}{5}{1155}{1934}{vSMC AD-down}
{CEBPD,PPARG,SMAD4,CTCF,POLR2A}
{exp .6\\exp .7\\exp .85\\exp .3\\exp .1\\}
{(1,1)[6] (2,1)[3] (3,1)[2.2] (1,2)[3] (2,2)[6] (1,3)[2.2] (3,3)[6] (4,4)[6] (5,5)[6]}

\heat{1299}{1944}{5}{1339}{1934}{Fib1 AD-down}
{JUND,EP300,CHD1,ARNT,BACH1}
{exp .1\\exp 0\\exp .25\\exp .85\\exp .85\\}
{(1,1)[6] (2,2)[6] (3,3)[6] (4,4)[6] (5,5)[6]}

\heat{1466}{1953}{4}{1494.5}{1934}{Ependy AD-down}
{SMAD3,CREB1,BRD4,CLOCK}
{exp .12\\exp 0\\exp .45\\exp .5\\}
{(1,1)[6] (2,2)[6] (3,3)[6] (4,4)[6]}

% legend on the right
\fill[red] (1350pt,1987pt) rectangle (1367pt,1999pt);
\fill[expgrey] (1350pt,1974pt) rectangle (1367pt,1987pt);
\node[anchor=west,inner sep=0pt,font=\fontsize{11}{13}\selectfont] at (1372pt,1993pt) {DE (differentially expressed)};
\node[anchor=west,inner sep=0pt,font=\fontsize{11}{13}\selectfont] at (1372pt,1980pt) {exp (expressed)};
\node[anchor=west,inner sep=0pt,font=\fontsize{15.8}{18}\bfseries] at (1350pt,1947pt) {sigDE (absolute)};
\node[anchor=west,inner sep=0pt,font=\fontsize{15.8}{18}\bfseries] at (1350pt,1814pt) {−log10(pvalue)};

\begin{axis}[barstyle,at={(1350pt,1883pt)},width=19pt,height=50pt,ymin=-.09,ymax=2.18,ytick={0,1,2},
  colormap name=sigc,point meta min=0,point meta max=2]
  \addplot[scatter,only marks,mark=square*,mark size=1.25pt,scatter src=explicit,mark options={xscale=7.6,line width=0pt},
    scatter/use mapped color={draw=mapped color,fill=mapped color}]
    coordinates {(0,0)[0] (0,.1)[.1] (0,.2)[.2] (0,.3)[.3] (0,.4)[.4] (0,.5)[.5] (0,.6)[.6] (0,.7)[.7] (0,.8)[.8] (0,.9)[.9] (0,1)[1] (0,1.1)[1.1] (0,1.2)[1.2] (0,1.3)[1.3] (0,1.4)[1.4] (0,1.5)[1.5] (0,1.6)[1.6] (0,1.7)[1.7] (0,1.8)[1.8] (0,1.9)[1.9] (0,2)[2] (0,2.1)[2]};
\end{axis}
\begin{axis}[barstyle,at={(1350pt,1705pt)},width=19pt,height=96pt,ymin=-.2,ymax=6.27,ytick={0,2,4,6},
  colormap name=hm,point meta min=0,point meta max=6]
  \addplot[scatter,only marks,mark=square*,mark size=2pt,scatter src=explicit,mark options={xscale=4.75,line width=0pt},
    scatter/use mapped color={draw=mapped color,fill=mapped color}]
    coordinates {(0,-.1)[0] (0,0)[0] (0,.25)[.25] (0,.5)[.5] (0,.75)[.75] (0,1)[1] (0,1.25)[1.25] (0,1.5)[1.5] (0,1.75)[1.75] (0,2)[2] (0,2.25)[2.25] (0,2.5)[2.5] (0,2.75)[2.75] (0,3)[3] (0,3.25)[3.25] (0,3.5)[3.5] (0,3.75)[3.75] (0,4)[4] (0,4.25)[4.25] (0,4.5)[4.5] (0,4.75)[4.75] (0,5)[5] (0,5.25)[5.25] (0,5.5)[5.5] (0,5.75)[5.75] (0,6)[6] (0,6.15)[6]};
\end{axis}
\end{tikzpicture}
\end{document}
